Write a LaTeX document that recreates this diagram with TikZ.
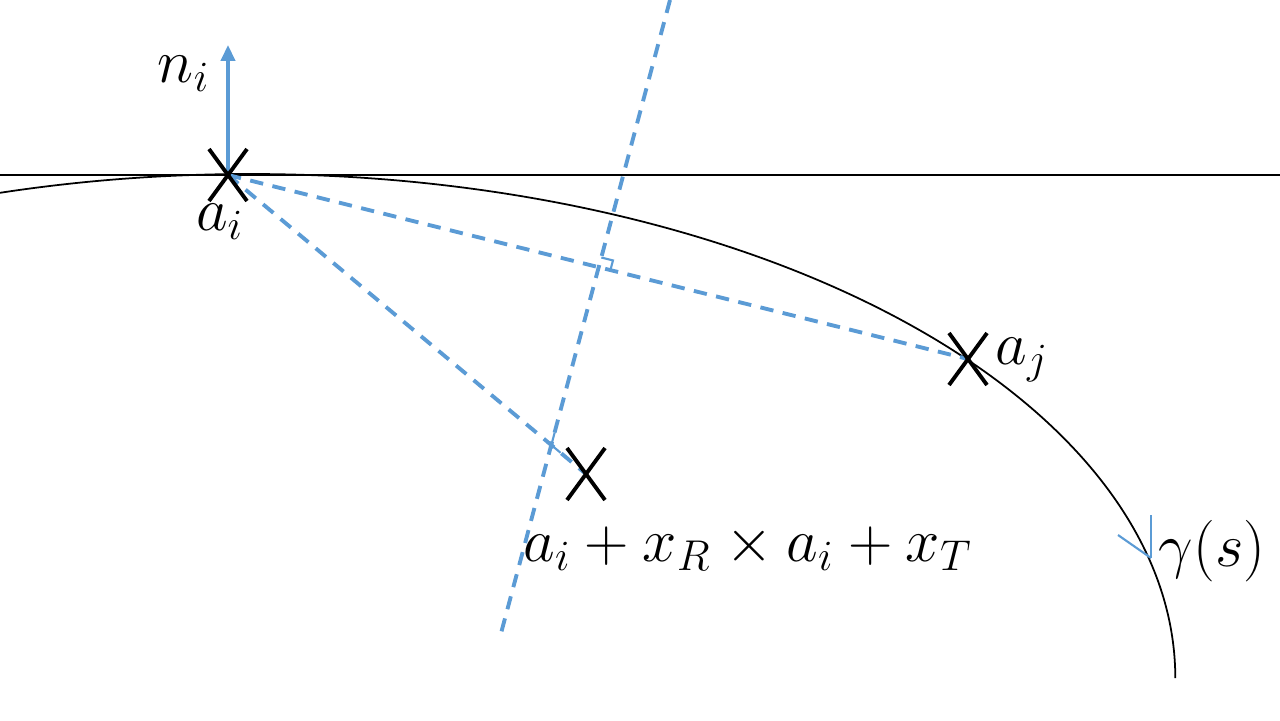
\documentclass[tikz,border=0pt]{standalone}
\usepackage{fix-cm}
\usetikzlibrary{calc,arrows.meta}
\definecolor{ablue}{HTML}{5B9BD5}
\begin{document}
\begin{tikzpicture}[x=0.01cm,y=-0.01cm,
	font=\fontsize{17.5}{21}\selectfont,
	bdash/.style={ablue, line width=1.1pt, dash pattern=on 3.8pt off 2.7pt},
	rmark/.style={ablue, line width=0.6pt},
	crs/.style={black, line width=1.1pt}]
	\useasboundingbox (0,0) rectangle (1280,720);

	\coordinate (ai) at (228,175);
	\coordinate (aj) at (968,359);
	\coordinate (xt) at (586,474);
	\coordinate (ni) at (228,45);
	\coordinate (top) at (670,0);
	\coordinate (bot) at (500,637);
	\coordinate (tl) at (0,175);
	\coordinate (tr) at (1280,175);
	\coordinate (g) at (1151,558);

	% tangent line and curve
	\draw[line width=0.4pt] (tl) -- (tr);
	\draw[line width=0.5pt] (0,192.8) arc[start angle=-105.7, end angle=0, x radius=925, y radius=504];

	% normal
	\draw[ablue, line width=1pt, -{Triangle[width=4pt,length=4.5pt]}] (ai) -- (ni);

	% dashed lines
	\draw[bdash] (top) -- (bot);
	\draw[bdash] (ai) -- (aj);
	\draw[bdash] (ai) -- (xt);

	% right angle marks
	\coordinate (m) at (intersection of ai--aj and top--bot);
	\coordinate (f) at (intersection of ai--xt and top--bot);
	\coordinate (m1) at ($(m)!0.1cm!(top)$);
	\coordinate (m2) at ($(m)!0.12cm!(aj)$);
	\draw[rmark] (m1) -- ($(m1)+(m2)-(m)$) -- (m2);
	\coordinate (f1) at ($(f)!0.13cm!(top)$);
	\coordinate (f2) at ($(f)!0.12cm!(xt)$);
	\draw[rmark] (f1) -- (f) -- (f2);

	% direction tip
	\draw[rmark] (g) -- ++(0,-43);
	\draw[rmark] (g) -- ++(-33,-23);

	% crosses
	\foreach \p in {ai,aj,xt}
		\draw[crs] ($(\p)+(-19,-26)$) -- ($(\p)+(19,26)$)
			($(\p)+(19,-26)$) -- ($(\p)+(-19,26)$);

	\node (lni) at (184,74) {$n_i$};
	\node (lai) at (220,222) {$a_i$};
	\node (laj) at (1022,360) {$a_j$};
	\node (lxt) at (748,548) {$a_i + x_R \times a_i + x_T$};
	\node (lg) at (1212,551) {$\gamma(s)$};
\end{tikzpicture}
\end{document}
